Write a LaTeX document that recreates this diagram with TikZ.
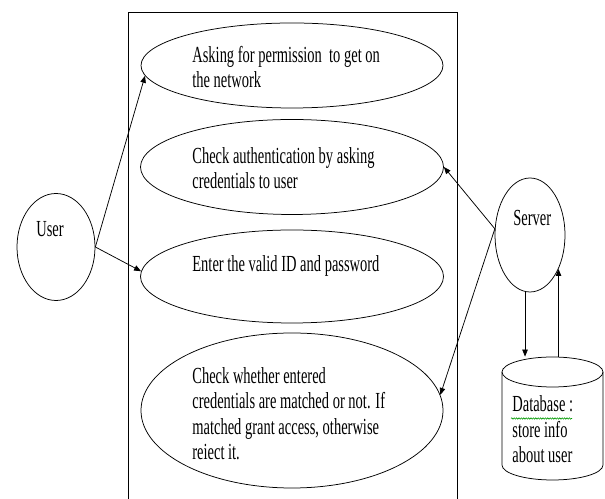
\documentclass[tikz,border=0pt]{standalone}
\usepackage{fontspec}
\setmainfont{Liberation Serif}[FakeStretch=0.63]
\usetikzlibrary{arrows.meta,shapes.geometric,decorations.pathmorphing}

\begin{document}
\begin{tikzpicture}[x=1bp,y=1bp,
  line width=0.75bp,
  usecase/.style={draw, ellipse, inner sep=0pt},
  actor/.style={draw, ellipse, inner sep=0pt},
  label/.style={anchor=base west, inner sep=0pt, align=left,
    font=\fontsize{23bp}{25.5bp}\selectfont},
  arr/.style={-{Triangle[length=7bp,width=5.5bp]}},
  spell/.style={draw=green!60!black, line width=0.6bp, decorate,
    decoration={snake, amplitude=0.7bp, segment length=2.4bp}}]

\useasboundingbox (0,0) rectangle (605,499);
\begin{scope}
\clip (0,0) rectangle (605,499);

% system boundary (runs past the lower edge)
\draw (128,487) rectangle (457,-20);

% use cases
\node[usecase, minimum width=302bp, minimum height=85bp]  (e1) at (292,433.5) {};
\node[usecase, minimum width=303bp, minimum height=95bp]  (e2) at (292,332) {};
\node[usecase, minimum width=303bp, minimum height=93bp]  (e3) at (292,222.5) {};
\node[usecase, minimum width=302bp, minimum height=155bp] (e4) at (292,88.5) {};

% labels are placed by the baseline of their last line
\node[label] (t1) at (192,411) {Asking for permission\ \ to get on\\the network};
\node[label] (t2) at (192,310) {Check authentication by asking\\credentials to user};
\node[label] (t3) at (192,227) {Enter the valid ID and password};
\node[label] (t4) at (192,39) {Check whether entered\\credentials are matched or not. If\\matched grant access, otherwise\\reiect it.};

% actors
\node[actor, minimum width=78bp, minimum height=107bp] (user) at (56,252) {};
\node[label] (tuser) at (36,262) {User};
\node[actor, minimum width=70bp, minimum height=114bp] (srv) at (530,264) {};
\node[label] (tsrv) at (513,273) {Server};

% database cylinder
\node[minimum width=101bp, minimum height=123bp, inner sep=0pt] (db) at (552.5,80.5) {};
\draw (502,127) -- (502,34)
      arc[start angle=180, end angle=360, x radius=50.5, y radius=15]
      -- (603,127);
\draw (552.5,127) ellipse[x radius=50.5, y radius=15];
\node[label] (tdb) at (512,36) {Database :\\store info\\about user};
\draw[spell] (511,80.5) -- (572,80.5);

% connectors
\draw[arr] (user.east) -- (e1.184);
\draw[arr] (user.east) -- (e3.178);
\draw[arr] (srv.170) -- (e2.east);
\draw[arr] (srv.170) -- (e4.6);
\draw[arr] (srv.-95) -- (db.north -| srv.-95);
\draw[arr] (db.north -| srv.-50) -- (srv.-50);
\end{scope}
\end{tikzpicture}
\end{document}
